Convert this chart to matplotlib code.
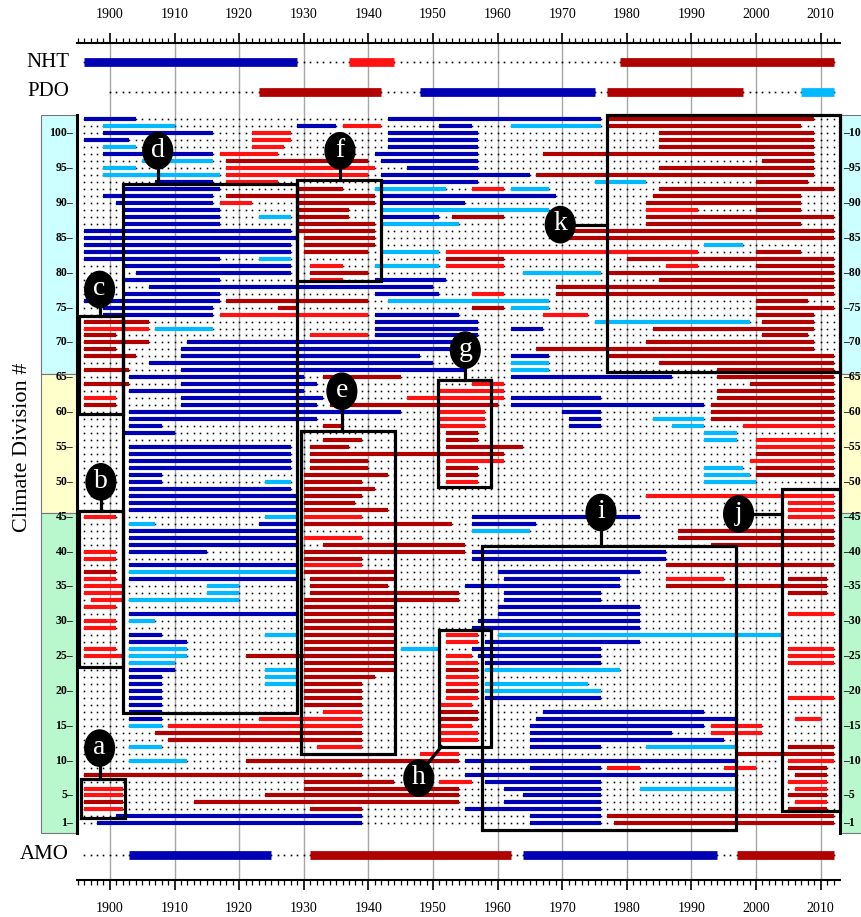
import numpy as np
import matplotlib.pyplot as plt
import matplotlib.transforms as mtransforms
from matplotlib.patches import Rectangle, Ellipse

# bar segments per colour: (division, first year, last year)
dark_blue = [
    (102, 1896, 1904), (102, 1943, 1976), (101, 1929, 1935), (101, 1951, 1956),
    (100, 1899, 1916), (100, 1943, 1957), (99, 1896, 1903), (99, 1943, 1957),
    (98, 1943, 1957), (97, 1899, 1916), (97, 1941, 1957), (96, 1942, 1957),
    (95, 1946, 1957), (94, 1942, 1965), (93, 1907, 1916), (93, 1942, 1957),
    (92, 1902, 1917), (91, 1899, 1916), (91, 1942, 1969), (90, 1901, 1916),
    (90, 1942, 1955), (89, 1902, 1917), (88, 1902, 1917), (88, 1942, 1951),
    (87, 1902, 1917), (86, 1896, 1928), (85, 1896, 1929), (84, 1896, 1928),
    (83, 1896, 1928), (82, 1896, 1917), (81, 1902, 1928), (80, 1904, 1928),
    (79, 1902, 1917), (79, 1941, 1952), (78, 1906, 1950), (77, 1902, 1917),
    (77, 1941, 1951), (76, 1896, 1917), (75, 1899, 1916), (74, 1899, 1916),
    (74, 1941, 1954), (73, 1941, 1957), (72, 1941, 1957), (72, 1962, 1967),
    (71, 1941, 1957), (70, 1912, 1953), (69, 1911, 1953), (68, 1911, 1948),
    (68, 1962, 1968), (67, 1906, 1950), (66, 1911, 1955), (65, 1903, 1930),
    (65, 1962, 1987), (64, 1911, 1932), (63, 1903, 1930), (62, 1911, 1933),
    (62, 1962, 1976), (61, 1911, 1932), (61, 1962, 1992), (60, 1903, 1945),
    (60, 1970, 1976), (59, 1903, 1932), (59, 1971, 1976), (58, 1903, 1908),
    (58, 1971, 1976), (57, 1902, 1910), (55, 1903, 1928), (54, 1903, 1928),
    (53, 1903, 1928), (52, 1903, 1928), (51, 1903, 1908), (50, 1903, 1908),
    (49, 1903, 1928), (48, 1903, 1929), (47, 1903, 1929), (46, 1903, 1929),
    (45, 1956, 1982), (44, 1923, 1929), (44, 1956, 1966), (43, 1903, 1929),
    (42, 1903, 1929), (41, 1903, 1929), (40, 1903, 1915), (40, 1956, 1986),
    (39, 1956, 1986), (38, 1903, 1929), (37, 1960, 1982), (36, 1903, 1929),
    (36, 1961, 1979), (35, 1955, 1979), (34, 1961, 1976), (33, 1961, 1976),
    (32, 1960, 1982), (31, 1903, 1929), (31, 1960, 1982), (30, 1957, 1982),
    (29, 1956, 1982), (28, 1903, 1908), (27, 1903, 1912), (27, 1958, 1982),
    (26, 1956, 1976), (25, 1957, 1976), (24, 1958, 1976), (23, 1903, 1910),
    (22, 1903, 1908), (21, 1903, 1908), (20, 1903, 1908), (19, 1903, 1908),
    (19, 1958, 1976), (18, 1903, 1908), (17, 1903, 1908), (17, 1967, 1992),
    (16, 1903, 1908), (16, 1966, 1997), (15, 1965, 1992), (14, 1965, 1987),
    (13, 1965, 1995), (12, 1965, 1976), (10, 1955, 1997), (9, 1965, 1976),
    (8, 1955, 1997), (7, 1958, 1976), (6, 1961, 1976), (5, 1964, 1976),
    (4, 1961, 1976), (3, 1955, 1976), (2, 1901, 1939), (2, 1965, 1976),
    (1, 1898, 1939), (1, 1965, 1976),
]

light_blue = [
    (101, 1899, 1910), (101, 1962, 1976), (98, 1899, 1904), (96, 1905, 1916),
    (95, 1899, 1904), (94, 1899, 1917), (93, 1975, 1983), (92, 1941, 1952),
    (92, 1962, 1968), (89, 1942, 1968), (88, 1923, 1928), (87, 1942, 1954),
    (84, 1992, 1998), (83, 1942, 1951), (82, 1923, 1928), (81, 1941, 1951),
    (80, 1964, 1976), (76, 1943, 1968), (75, 1962, 1968), (73, 1975, 1999),
    (72, 1907, 1916), (67, 1962, 1968), (66, 1962, 1968), (59, 1984, 1992),
    (58, 1987, 1992), (57, 1992, 1997), (56, 1992, 1997), (52, 1992, 1998),
    (51, 1992, 1999), (50, 1924, 1928), (50, 1992, 2000), (45, 1924, 1929),
    (44, 1903, 1907), (43, 1956, 1965), (37, 1903, 1929), (35, 1915, 1920),
    (34, 1915, 1920), (33, 1903, 1920), (30, 1903, 1907), (28, 1924, 1929),
    (28, 1960, 2004), (26, 1903, 1912), (26, 1945, 1951), (25, 1903, 1912),
    (24, 1903, 1910), (23, 1924, 1929), (23, 1958, 1979), (22, 1924, 1929),
    (21, 1924, 1929), (21, 1958, 1974), (20, 1958, 1976), (15, 1903, 1908),
    (12, 1903, 1908), (12, 1983, 1997), (10, 1903, 1912), (6, 1982, 1997),
]

red = [
    (101, 1936, 1942), (100, 1922, 1928), (99, 1922, 1928), (98, 1922, 1927),
    (97, 1917, 1926), (95, 1918, 1941), (94, 1918, 1940), (93, 1918, 1926),
    (92, 1956, 1961), (90, 1917, 1922), (89, 1983, 1991), (83, 1952, 1991),
    (81, 1931, 1936), (81, 1952, 1961), (81, 1986, 1991), (79, 1931, 1936),
    (77, 1956, 1961), (74, 1917, 1940), (74, 1967, 1974), (72, 1896, 1906),
    (71, 1931, 1940), (64, 1956, 1961), (63, 1951, 1961), (62, 1896, 1901),
    (62, 1946, 1961), (60, 1951, 1958), (59, 1951, 1958), (58, 1951, 1958),
    (58, 1998, 2012), (56, 2000, 2012), (55, 2000, 2012), (53, 1952, 1961),
    (53, 1999, 2012), (50, 1952, 1957), (48, 1983, 2012), (47, 2005, 2012),
    (46, 2005, 2012), (45, 1896, 1901), (45, 1930, 1939), (45, 2005, 2012),
    (42, 1930, 1939), (40, 1896, 1901), (39, 1896, 1901), (38, 1930, 1939),
    (36, 1896, 1901), (36, 1986, 1995), (35, 1896, 1902), (34, 1896, 1902),
    (33, 1897, 1902), (32, 1896, 1901), (31, 2005, 2012), (30, 1896, 1901),
    (29, 1896, 1901), (28, 1952, 1957), (27, 1952, 1957), (26, 1896, 1901),
    (26, 2005, 2012), (25, 1896, 1902), (25, 1952, 1956), (25, 2005, 2012),
    (24, 1952, 1957), (24, 2005, 2012), (22, 1952, 1957), (21, 1952, 1957),
    (19, 1952, 1957), (19, 2005, 2012), (18, 1951, 1956), (17, 1933, 1939),
    (16, 1923, 1939), (16, 2006, 2010), (15, 1909, 1939), (15, 1951, 1956),
    (15, 1993, 2001), (14, 1951, 1957), (14, 1993, 2001), (13, 1951, 1957),
    (12, 1932, 1939), (11, 1948, 1954), (10, 2005, 2012), (9, 1977, 1982),
    (9, 1995, 2000), (7, 1951, 1956), (7, 2005, 2011), (6, 1896, 1902),
    (6, 2006, 2011), (5, 1896, 1902), (4, 2006, 2011), (3, 1896, 1902),
]

dark_red = [
    (102, 1977, 2009), (101, 1977, 2007), (100, 1985, 2009), (99, 1985, 2009),
    (98, 1985, 2009), (97, 1967, 2009), (96, 1918, 1940), (96, 2001, 2009),
    (95, 1985, 2009), (94, 1966, 2009), (93, 2000, 2008), (92, 1929, 1936),
    (92, 1985, 2012), (91, 1918, 1941), (91, 1984, 2007), (90, 1929, 1941),
    (90, 1983, 2007), (89, 1929, 1937), (89, 2000, 2007), (88, 1929, 1937),
    (88, 1953, 1961), (88, 1983, 2012), (87, 1929, 1941), (87, 1983, 2007),
    (86, 1929, 1941), (86, 1971, 2012), (85, 1930, 1941), (85, 1970, 2012),
    (84, 1930, 1941), (83, 1930, 1940), (83, 2000, 2007), (82, 1952, 1961),
    (82, 1980, 2012), (81, 2000, 2012), (80, 1931, 1940), (80, 1977, 2012),
    (79, 1985, 2012), (78, 1969, 2012), (77, 1969, 2012), (76, 1918, 1940),
    (76, 2000, 2008), (75, 1926, 1929), (75, 1956, 1961), (75, 2000, 2012),
    (74, 2000, 2009), (73, 1896, 1906), (73, 2001, 2009), (72, 1984, 2009),
    (71, 1896, 1901), (71, 2001, 2008), (70, 1896, 1906), (70, 1983, 2009),
    (69, 1896, 1901), (69, 1966, 2009), (68, 1896, 1904), (68, 1977, 2012),
    (67, 1985, 2012), (66, 1896, 1903), (66, 1994, 2012), (65, 1933, 1945),
    (65, 1994, 2012), (64, 1896, 1903), (64, 1999, 2012), (63, 1994, 2012),
    (62, 1994, 2012), (61, 1896, 1901), (61, 1934, 1960), (61, 1993, 2012),
    (60, 1993, 2012), (59, 1993, 2012), (58, 1933, 1936), (57, 1952, 1957),
    (56, 1933, 1939), (56, 1952, 1957), (55, 1931, 1937), (55, 1952, 1964),
    (54, 1931, 1961), (54, 2000, 2012), (53, 1931, 1940), (52, 1931, 1940),
    (52, 1952, 1957), (52, 2000, 2012), (51, 1930, 1943), (51, 1952, 1957),
    (51, 2000, 2012), (50, 1930, 1939), (49, 1930, 1941), (48, 1930, 1939),
    (47, 1930, 1938), (46, 1930, 1943), (44, 1930, 1953), (43, 1988, 2012),
    (42, 1988, 2012), (41, 1933, 1955), (41, 1993, 2012), (40, 1930, 1955),
    (39, 1930, 1939), (38, 1986, 2012), (37, 1896, 1901), (37, 1930, 1944),
    (36, 1931, 1944), (36, 2005, 2011), (35, 1931, 1943), (35, 1986, 2011),
    (34, 1931, 1954), (34, 2005, 2011), (33, 1930, 1954), (32, 1930, 1944),
    (31, 1930, 1944), (30, 1930, 1944), (29, 1930, 1944), (28, 1930, 1944),
    (27, 1930, 1944), (26, 1930, 1944), (25, 1921, 1944), (24, 1930, 1944),
    (23, 1930, 1944), (23, 1952, 1957), (22, 1930, 1941), (21, 1930, 1939),
    (20, 1930, 1939), (20, 1952, 1957), (19, 1930, 1939), (18, 1930, 1939),
    (17, 1951, 1957), (16, 1951, 1957), (14, 1907, 1939), (13, 1909, 1939),
    (12, 2005, 2012), (11, 1997, 2012), (10, 1921, 1954), (9, 2005, 2011),
    (8, 1896, 1939), (8, 2006, 2011), (7, 1930, 1944), (6, 1930, 1954),
    (5, 1924, 1954), (5, 2005, 2011), (4, 1896, 1902), (4, 1913, 1954),
    (3, 1931, 1939), (3, 2005, 2011), (2, 1977, 2012), (1, 1978, 2012),
]

# index rows: (start, end, colour key)
nht = [(1896, 1929, 'B'), (1937, 1944, 'R'), (1979, 2012, 'D')]
pdo = [(1923, 1942, 'D'), (1948, 1975, 'B'), (1977, 1998, 'D'), (2007, 2012, 'L')]
amo = [(1903, 1925, 'B'), (1931, 1962, 'D'), (1964, 1994, 'B'), (1997, 2012, 'D')]
index_names = ['NHT', 'PDO', 'AMO']
index_first_year = [1896, 1900, 1896]

divisions = np.arange(1, 103)
years = np.arange(1896, 2013)
div_ticks = [1] + list(range(5, 101, 5))

# highlighted boxes: label, x0, x1, y0, y1
boxes = [
    ('a', 1895.6, 1902.4, 1.7, 7.4), ('b', 1895.2, 1902.0, 23.5, 45.8),
    ('c', 1895.2, 1902.0, 59.7, 73.8), ('d', 1902.0, 1929.0, 16.9, 92.8),
    ('e', 1929.5, 1944.1, 11.0, 57.3), ('f', 1929.0, 1942.0, 78.8, 93.3),
    ('g', 1950.8, 1959.0, 49.2, 64.6), ('h', 1951.0, 1959.0, 12.0, 28.7),
    ('i', 1957.6, 1996.9, 0.0, 40.8), ('j', 2004.0, 2013.0, 2.8, 49.0),
    ('k', 1977.0, 2013.0, 65.7, 102.7),
]
# balloon centres
balloons = {
    'a': (1898.4, 11.8), 'b': (1898.6, 50.0), 'c': (1898.4, 77.6),
    'd': (1907.4, 97.5), 'e': (1935.9, 63.0), 'f': (1935.6, 97.5),
    'g': (1955.0, 68.9), 'h': (1947.8, 7.5), 'i': (1976.0, 45.6),
    'j': (1997.3, 45.4), 'k': (1969.7, 86.9),
}

colors = {'B': '#0000b4', 'L': '#00b9ff', 'R': '#ff1212', 'D': '#b00000'}

plt.rcParams['font.family'] = ['Liberation Serif', 'DejaVu Serif']

fig = plt.figure(figsize=(8.62, 9.17), dpi=100)
ax = fig.add_axes([0.0893, 0.0403, 0.8852, 0.9131])
x_lo, x_hi = 1894.9, 2013.0
ax.set_xlim(x_lo, x_hi)
ax.set_ylim(-7.13, 113.0)

y_nht, y_pdo, y_amo = 110.2, 106.0, -3.5
frame_bot, frame_top = -0.4, 102.6

# decade grid
for yr in range(1900, 2011, 10):
    ax.axvline(yr, color='#a6a6a6', lw=1.0, zorder=0)

# side panels
blend = mtransforms.blended_transform_factory(ax.transAxes, ax.transData)
for y0, y1, fc in [(65.5, frame_top, '#ccffff'), (45.5, 65.5, '#ffffcc'),
                   (frame_bot, 45.5, '#b8f8cc')]:
    ax.add_patch(Rectangle((-0.0472, y0), 0.0472, y1 - y0, transform=blend,
                           facecolor=fc, edgecolor='#777777', lw=0.8,
                           clip_on=False, zorder=0))
    ax.add_patch(Rectangle((1.0, y0), 0.06, y1 - y0, transform=blend,
                           facecolor=fc, edgecolor='#777777', lw=0.8,
                           clip_on=False, zorder=0))

# dotted background
X, Y = np.meshgrid(years, divisions)
ax.plot(X.ravel(), Y.ravel(), 's', ms=1.15, mew=0, color='k', zorder=1)

for segs, key in [(dark_blue, 'B'), (light_blue, 'L'), (red, 'R'), (dark_red, 'D')]:
    d = [s[0] for s in segs]
    lc = ax.hlines(d, [s[1] for s in segs], [s[2] for s in segs],
                   colors=colors[key], lw=3.0, zorder=2)
    lc.set_capstyle('butt')

# index rows
for name, segs, yy, first in zip(index_names, [nht, pdo, amo], [y_nht, y_pdo, y_amo],
                                 index_first_year):
    yrs = np.arange(first, 2013)
    ax.plot(yrs, np.full(len(yrs), yy), 's', ms=1.2, mew=0, color='k', zorder=1)
    for s, e, c in segs:
        lc = ax.hlines(yy, s, e, colors=colors[c], lw=6.3, zorder=2)
        lc.set_capstyle('butt')
    ax.text(-0.0105, yy, name, transform=blend, ha='right', va='center',
            fontsize=15)

# frame
for xx in (x_lo, x_hi):
    ax.plot([xx, xx], [frame_bot, frame_top], color='k', lw=2.2,
            clip_on=False, zorder=3)

# boxes and balloons
bw, bh = 4.6, 5.2
for lab, x0, x1, y0, y1 in boxes:
    ax.add_patch(Rectangle((x0, y0), x1 - x0, y1 - y0, fill=False,
                           edgecolor='k', lw=2.3, zorder=4, clip_on=False))
    bx, by = balloons[lab]
    if lab in ('j', 'k'):
        ax.plot([bx, x0], [by, by], color='k', lw=2.3, zorder=4)
    elif lab == 'h':
        ax.plot([x0 + 0.3, bx + 1.3], [y0, by + 2.0], color='k', lw=2.3, zorder=4)
    else:
        ax.plot([bx, bx], [by, y1], color='k', lw=2.3, zorder=4)
    ax.add_patch(Ellipse((bx, by), bw, bh, facecolor='k', edgecolor='k', zorder=5))
    ax.text(bx, by + 0.1, lab, color='white', fontsize=20, ha='center',
            va='center', zorder=6)

# axis rulers
for side in ('left', 'right'):
    ax.spines[side].set_visible(False)
for side in ('top', 'bottom'):
    ax.spines[side].set_linewidth(1.5)
ax.set_xticks(range(1900, 2011, 10))
ax.set_xticks(range(1895, 2013), minor=True)
ax.tick_params(axis='x', which='both', top=True, bottom=True, labeltop=True,
               labelbottom=True, direction='out')
ax.tick_params(axis='x', which='major', length=7.5, width=1.2, labelsize=10, pad=8)
ax.tick_params(axis='x', which='minor', length=3.8, width=0.9)
ax.set_yticks([])

for d in div_ticks:
    ax.text(-0.005, d, f'{d}–', transform=blend, ha='right', va='center',
            fontsize=8.5, fontweight='bold')
    ax.text(1.004, d, f'–{d}', transform=blend, ha='left', va='center',
            fontsize=8.5, fontweight='bold')

ax.text(-0.072, 55.0, 'Climate Division #', transform=blend, rotation=90,
        ha='center', va='center', fontsize=16)

fig.savefig('out.png', dpi=100)
